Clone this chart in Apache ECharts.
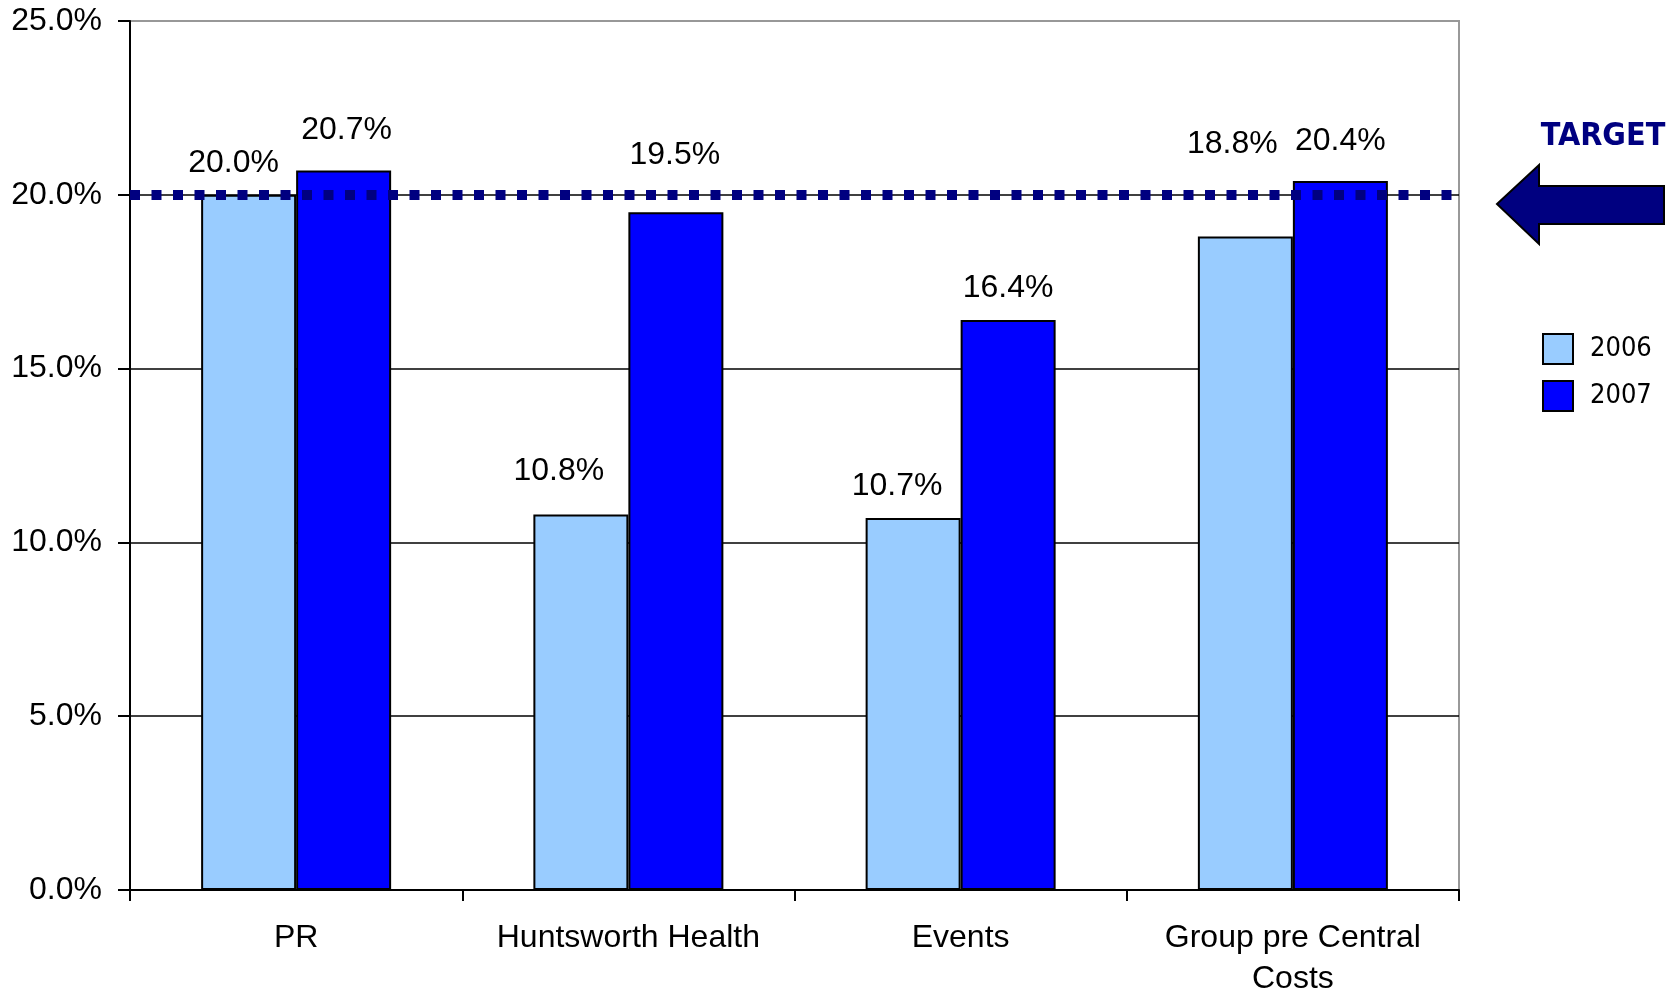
<!DOCTYPE html>
<html>
<head>
<meta charset="utf-8">
<script src="https://cdn.jsdelivr.net/npm/echarts@6/dist/echarts.min.js"></script>
<style>
  html, body { margin: 0; padding: 0; background: #fff; }
  #chart { width: 1680px; height: 992px; }
</style>
</head>
<body>
<div id="chart"></div>
<script>
// data
var categories = ['PR', 'Huntsworth Health', 'Events', 'Group pre Central\nCosts']
var values2006 = [20.0, 10.8, 10.7, 18.8]
var values2007 = [20.7, 19.5, 16.4, 20.4]
var targetValue = 20
var yTicks = { min: 0, max: 25, interval: 5 }

// label nudges (the original has a few labels moved by hand)
var nudge2006 = [[-15, 0], [-22, -11], [-16, 0], [-13, -60]]
var nudge2007 = [[3, -8], [-1, -25], [0, 0], [0, -8]]

var font = '"Liberation Sans", Arial, sans-serif'

function items (vals, nudges) {
  return vals.map(function (v, i) {
    return { value: v, label: { offset: nudges[i] } }
  })
}

function pct (v) {
  return v.toFixed(1) + '%'
}

var chart = echarts.init(document.getElementById('chart'))

var barLabel = {
  show: true,
  position: 'top',
  distance: 16,
  fontFamily: font,
  fontSize: 32,
  lineHeight: 32,
  color: '#000',
  formatter: function (p) { return pct(p.value) }
}

var option = {
  backgroundColor: '#fff',
  animation: false,
  grid: {
    left: 130,
    right: 221,
    top: 21,
    bottom: 102,
    outerBoundsMode: 'none',
    containLabel: false,
    show: true,
    borderColor: '#999',
    borderWidth: 2
  },
  legend: {
    orient: 'vertical',
    left: 1542,
    top: 333,
    padding: 0,
    itemWidth: 30,
    itemHeight: 30,
    itemGap: 15,
    icon: 'rect',
    itemStyle: { borderColor: '#000', borderWidth: 2 },
    textStyle: { fontFamily: '"DejaVu Sans Condensed", "DejaVu Sans"', fontSize: 27, color: '#000', padding: [0, 0, 0, 12] },
    data: ['2006', '2007']
  },
  xAxis: {
    type: 'category',
    data: categories,
    axisLine: { lineStyle: { color: '#000', width: 2 } },
    axisTick: { show: true, inside: false, length: 11, alignWithLabel: false, lineStyle: { color: '#000', width: 2 } },
    axisLabel: { fontFamily: font, fontSize: 32, color: '#000', margin: 28, lineHeight: 41, interval: 0 }
  },
  yAxis: {
    type: 'value',
    min: yTicks.min,
    max: yTicks.max,
    interval: yTicks.interval,
    axisLine: { show: true, lineStyle: { color: '#000', width: 2 } },
    axisTick: { show: true, length: 12, lineStyle: { color: '#000', width: 2 } },
    axisLabel: {
      fontFamily: font, fontSize: 32, color: '#000', margin: 28,
      formatter: pct
    },
    splitLine: { show: true, lineStyle: { color: ['#000', '#000', '#000', '#000', '#000', '#999'], width: 1.5 } }
  },
  series: [
    {
      name: '2006',
      type: 'bar',
      barWidth: 95,
      barGap: '0%',
      data: items(values2006, nudge2006),
      itemStyle: { color: '#99CCFF', borderColor: '#000', borderWidth: 2 },
      label: barLabel
    },
    {
      name: '2007',
      type: 'bar',
      barWidth: 95,
      barGap: '0%',
      data: items(values2007, nudge2007),
      itemStyle: { color: '#0000FF', borderColor: '#000', borderWidth: 2 },
      label: barLabel,
      markLine: {
        silent: true,
        symbol: ['none', 'none'],
        z: 10,
        label: { show: false },
        lineStyle: { color: '#000080', width: 10, type: [10, 11.5], cap: 'butt', opacity: 1 },
        data: [{ yAxis: targetValue }]
      }
    }
  ],
  graphic: [
    {
      type: 'polygon',
      shape: {
        points: [[1497, 204], [1539, 165], [1539, 186], [1664, 186], [1664, 224], [1539, 224], [1539, 244]]
      },
      style: { fill: '#000080', stroke: '#000', lineWidth: 2 }
    },
    {
      type: 'text',
      x: 1603,
      y: 137,
      style: {
        text: 'TARGET',
        fill: '#000080',
        font: 'bold 32px "DejaVu Sans Condensed", "DejaVu Sans", sans-serif',
        align: 'center',
        verticalAlign: 'middle'
      }
    }
  ]
}

chart.setOption(option)
</script>
</body>
</html>
